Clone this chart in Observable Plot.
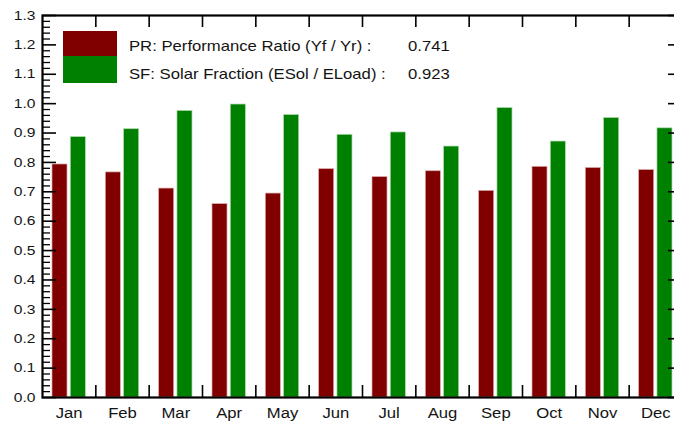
<!DOCTYPE html>
<html><head><meta charset="utf-8">
<script src="https://cdn.jsdelivr.net/npm/d3@7"></script>
<script src="https://cdn.jsdelivr.net/npm/@observablehq/plot@0.6"></script>
<style>
html,body{margin:0;padding:0;overflow:hidden;background:#fff;}
#wrap{position:relative;width:674px;height:421px;overflow:hidden;}
#wrap svg{max-width:none !important;display:block;}
.lg{position:absolute;font-family:"Liberation Sans",Arial,sans-serif;font-size:14.5px;line-height:15px;color:#141414;white-space:nowrap;transform:scaleX(1.15);transform-origin:left center;}
.sw{position:absolute;}
</style></head><body><div id="wrap"></div>
<script>
// ---- data ----
const months = ["Jan","Feb","Mar","Apr","May","Jun","Jul","Aug","Sep","Oct","Nov","Dec"];
const prValues = [0.793,0.766,0.711,0.658,0.694,0.777,0.750,0.770,0.703,0.785,0.781,0.774];
const sfValues = [0.886,0.913,0.975,0.997,0.961,0.894,0.902,0.854,0.985,0.871,0.951,0.916];
const seriesLabels = ["PR: Performance Ratio (Yf / Yr) :", "SF: Solar Fraction (ESol / ELoad) :"];
const seriesTotals = ["0.741", "0.923"];
const seriesColors = ["#800000", "#008000"];
const yTicks = [0.0,0.1,0.2,0.3,0.4,0.5,0.6,0.7,0.8,0.9,1.0,1.1,1.2,1.3];
const yMinor = d3.range(0, 131, 2).filter(v => v % 10 !== 0).map(v => v / 100);

// ---- layout ----
const W = 690, H = 421, mt = 15, mb = 24, ml = 42, mr = 8;
const fw = W - ml - mr, fh = H - mt - mb;
const bw = fw / months.length;

const rows = months.map((m, i) => ({month: m, pr: prValues[i], sf: sfValues[i]}));

const svg = Plot.plot({
  width: W, height: H,
  marginTop: mt, marginBottom: mb, marginLeft: ml, marginRight: mr,
  style: {fontFamily: '"Liberation Sans", Arial, sans-serif', background: "white", overflow: "visible"},
  x: {type: "band", domain: months, padding: 0, round: false, axis: null, label: null},
  y: {domain: [0, 1.3], axis: null, label: null},
  marks: [
    Plot.barY(rows, {x: "month", y: "pr", fill: seriesColors[0], stroke: "#d8a8a8", strokeWidth: 0.7, insetLeft: 10, insetRight: bw - 25}),
    Plot.barY(rows, {x: "month", y: "sf", fill: seriesColors[1], stroke: "#a8d8a8", strokeWidth: 0.7, insetLeft: 28.3, insetRight: 10}),
    Plot.ruleY(yTicks, {stroke: "black", strokeWidth: 1.6, insetRight: fw - 14}),
    Plot.ruleY(yMinor, {stroke: "black", strokeWidth: 1.3, insetRight: fw - 8}),
    Plot.ruleY(yTicks, {stroke: "black", strokeWidth: 1.6, insetLeft: fw - 14}),
    Plot.ruleY(yMinor, {stroke: "black", strokeWidth: 1.3, insetLeft: fw - 8}),
    Plot.ruleX(months.slice(1), {x: d => d, dx: -bw / 2, stroke: "black", strokeWidth: 1.6, insetTop: fh - 12}),
    Plot.ruleX(months.slice(1), {x: d => d, dx: -bw / 2, stroke: "black", strokeWidth: 1.6, insetBottom: fh - 12}),
    Plot.frame({stroke: "black", strokeWidth: 2.2}),
    Plot.axisY({ticks: yTicks, tickSize: 0, tickPadding: 7, tickFormat: d3.format(".1f"), fontSize: 13, fill: "#141414", label: null}),
    Plot.axisX({tickSize: 0, tickPadding: 10.5, fontSize: 14.5, fill: "#141414", label: null})
  ]
});

const wrap = document.getElementById("wrap");
wrap.appendChild(svg);

// horizontally stretch axis text to match the reference's wide lettering
svg.querySelectorAll("text").forEach(t => {
  const x = parseFloat(t.getAttribute("x")) || 0;
  const tr = t.getAttribute("transform") || "";
  const s = t.closest("[aria-label='y-axis tick label']") ? 1.2 : 1.15;
  t.setAttribute("transform", `${tr} translate(${x},0) scale(${s},1) translate(${-x},0)`);
});

// legend
const swTops = [31, 56], swH = [25, 27.3];
const txtTops = [39.3, 67.3];
seriesLabels.forEach((lab, i) => {
  const sw = document.createElement("div");
  sw.className = "sw";
  Object.assign(sw.style, {left: "63.3px", top: swTops[i] + "px", width: "54px", height: swH[i] + "px", background: seriesColors[i]});
  wrap.appendChild(sw);
  const t = document.createElement("div");
  t.className = "lg";
  t.textContent = lab;
  Object.assign(t.style, {left: "129.3px", top: txtTops[i] + "px"});
  wrap.appendChild(t);
  const v = document.createElement("div");
  v.className = "lg";
  v.textContent = seriesTotals[i];
  Object.assign(v.style, {left: "408.3px", top: txtTops[i] + "px"});
  wrap.appendChild(v);
});
</script></body></html>
